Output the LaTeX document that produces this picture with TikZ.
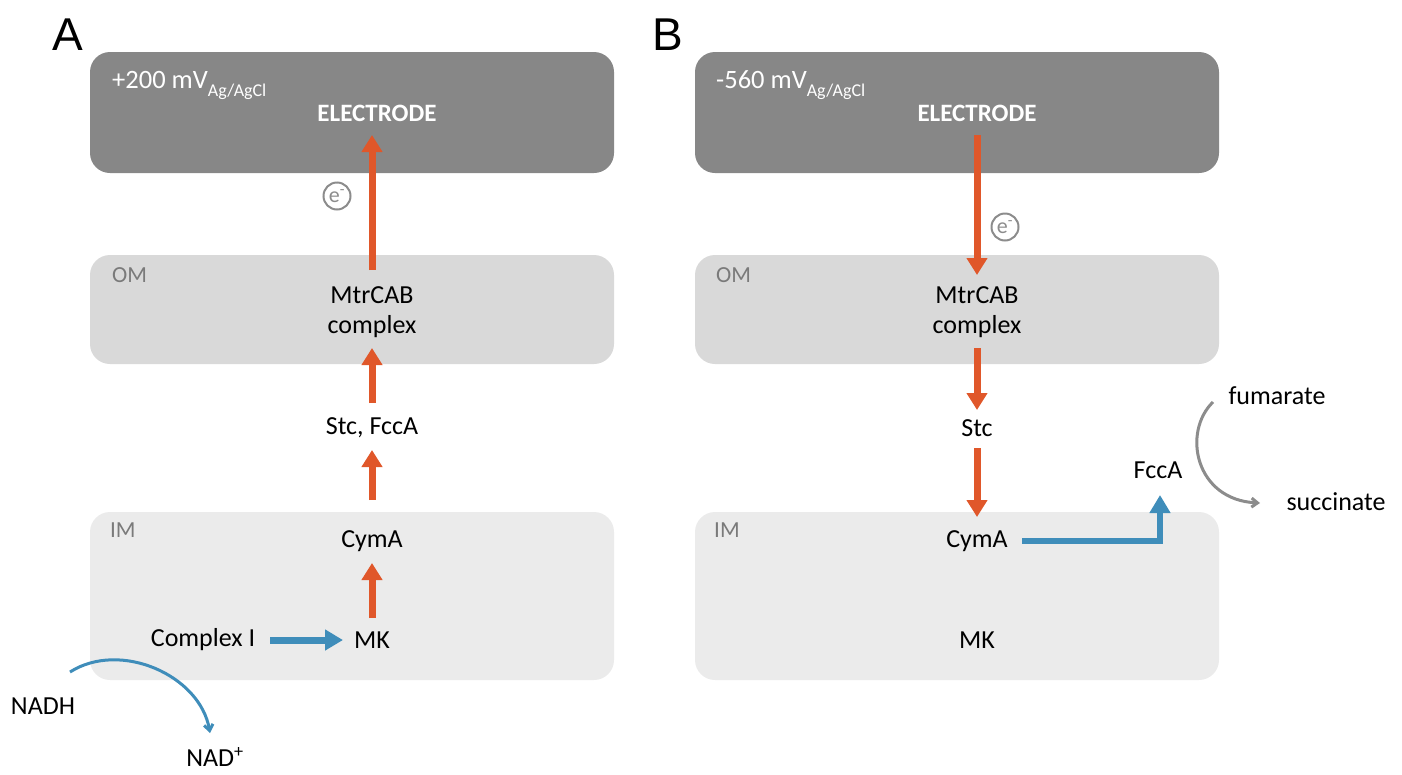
\documentclass[tikz,border=0pt]{standalone}
\usepackage{fontspec}
\setmainfont{Carlito}
\newfontfamily\headfont{Liberation Sans}
\usetikzlibrary{arrows.meta}
\definecolor{elec}{HTML}{878787}
\definecolor{omc}{HTML}{D9D9D9}
\definecolor{imc}{HTML}{EBEBEB}
\definecolor{redarr}{HTML}{E0572A}
\definecolor{bluearr}{HTML}{3F8DBA}
\definecolor{labgray}{HTML}{7A7A7A}
\definecolor{circgray}{HTML}{8C8C8C}
\begin{document}
\begin{tikzpicture}[x=1pt,y=-1pt,
  panel/.style={rounded corners=20pt,draw=none},
  txt/.style={inner sep=0pt,font=\fontsize{26}{30}\selectfont,text=black,align=center},
  memlab/.style={inner sep=0pt,font=\fontsize{23}{27}\selectfont,text=labgray,anchor=west},
  headlab/.style={inner sep=0pt,font=\headfont\fontsize{46}{50}\selectfont},
  volt/.style={inner sep=0pt,anchor=base west,text=white,font=\fontsize{26.5}{30}\selectfont},
  eltxt/.style={inner sep=0pt,text=white,font=\bfseries\fontsize{25}{29}\selectfont},
  redflow/.style={draw=redarr,line width=7pt,-{Triangle[width=20pt,length=17pt]}},
  blueflow/.style={draw=bluearr,line width=7pt,-{Triangle[width=20pt,length=18pt]}},
  bluethin/.style={draw=bluearr,line width=3pt,-{Straight Barb[width=9pt,length=6pt]}},
  graythin/.style={draw=circgray,line width=3pt,-{Straight Barb[width=9pt,length=6pt]}},
  ecirc/.style={circle,draw=circgray,line width=2pt,minimum size=27pt,inner sep=0pt,text=circgray,font=\fontsize{22}{24}\selectfont},
]
\useasboundingbox (0,0) rectangle (1402,774);
% ---------- Panel A ----------
\fill[panel,elec] (90,52) rectangle (614,173);
\fill[panel,omc] (90,255) rectangle (614,364);
\fill[panel,imc] (90,512) rectangle (614,680);
\node[headlab] (hA) at (68,35) {A};
\node[volt] (vA) at (112,88) {+200 mV\raisebox{-8pt}{\fontsize{18}{18}\selectfont Ag/AgCl}};
\node[eltxt] (elA) at (377,113) {ELECTRODE};
\coordinate (elAin) at (372,135);
\node[memlab] (omA) at (112,275) {OM};
\node[memlab] (imA) at (110,530) {IM};
\node[txt] (mtrA) at (372,312) {MtrCAB\\complex};
\node[txt] (stcA) at (372,428) {Stc, FccA};
\node[txt] (cymA) at (372,541) {CymA};
\node[txt] (mkA) at (372,640) {MK};
\node[txt] (cIA) at (203,640) {Complex I};
\node[txt] (nadh) at (43,706) {NADH};
\node[txt] (nadp) at (215,757) {NAD\textsuperscript{+}};
\node[ecirc] (eA) at (337,196) {e\textsuperscript{-}};
\draw[redflow] ([yshift=42pt]mtrA.center) -- (elAin);
\draw[redflow] ([yshift=25pt]stcA.center) -- ([yshift=-36pt]mtrA.center);
\draw[redflow] ([yshift=41pt]cymA.center) -- ([yshift=-22pt]stcA.center);
\draw[redflow] ([yshift=22pt]mkA.center) -- ([yshift=-22pt]cymA.center);
\draw[blueflow] ([xshift=67pt]cIA.center) -- ([xshift=-29pt]mkA.center);
\coordinate (nadhS) at (70,672);
\coordinate (nadhE) at (210,733);
\draw[bluethin] (nadhS) .. controls (120,640) and (200,675) .. (nadhE);
% ---------- Panel B ----------
\fill[panel,elec] (695,52) rectangle (1219,173);
\fill[panel,omc] (695,255) rectangle (1219,364);
\fill[panel,imc] (695,512) rectangle (1219,680);
\node[headlab] (hB) at (668,35) {B};
\node[volt] (vB) at (716,88) {-560 mV\raisebox{-8pt}{\fontsize{18}{18}\selectfont Ag/AgCl}};
\node[eltxt] (elB) at (977,113) {ELECTRODE};
\coordinate (elBin) at (977,135);
\node[memlab] (omB) at (716,275) {OM};
\node[memlab] (imB) at (714,530) {IM};
\node[txt] (mtrB) at (977,312) {MtrCAB\\complex};
\node[txt] (stcB) at (977,428) {Stc};
\node[txt] (cymB) at (977,541) {CymA};
\node[txt] (mkB) at (977,640) {MK};
\node[txt] (fccB) at (1158,470) {FccA};
\node[txt] (fum) at (1277,396) {fumarate};
\node[txt] (suc) at (1336,502) {succinate};
\node[ecirc] (eB) at (1005,227) {e\textsuperscript{-}};
\draw[redflow] (elBin) -- ([yshift=37pt]mtrB.center);
\draw[redflow] ([yshift=-36pt]mtrB.center) -- ([yshift=18pt]stcB.center);
\draw[redflow] ([yshift=-20pt]stcB.center) -- ([yshift=24pt]cymB.center);
\coordinate (elbow) at (1160,541);
\draw[blueflow,line width=6pt] ([xshift=45pt]cymB.center) -- (elbow) -- ([yshift=-25pt]fccB.center -| elbow);
\draw[graythin] ([xshift=-64pt,yshift=-6pt]fum.center) .. controls (1182,432) and (1195,500) .. ([xshift=-76pt,yshift=-1pt]suc.center);
\end{tikzpicture}
\end{document}
